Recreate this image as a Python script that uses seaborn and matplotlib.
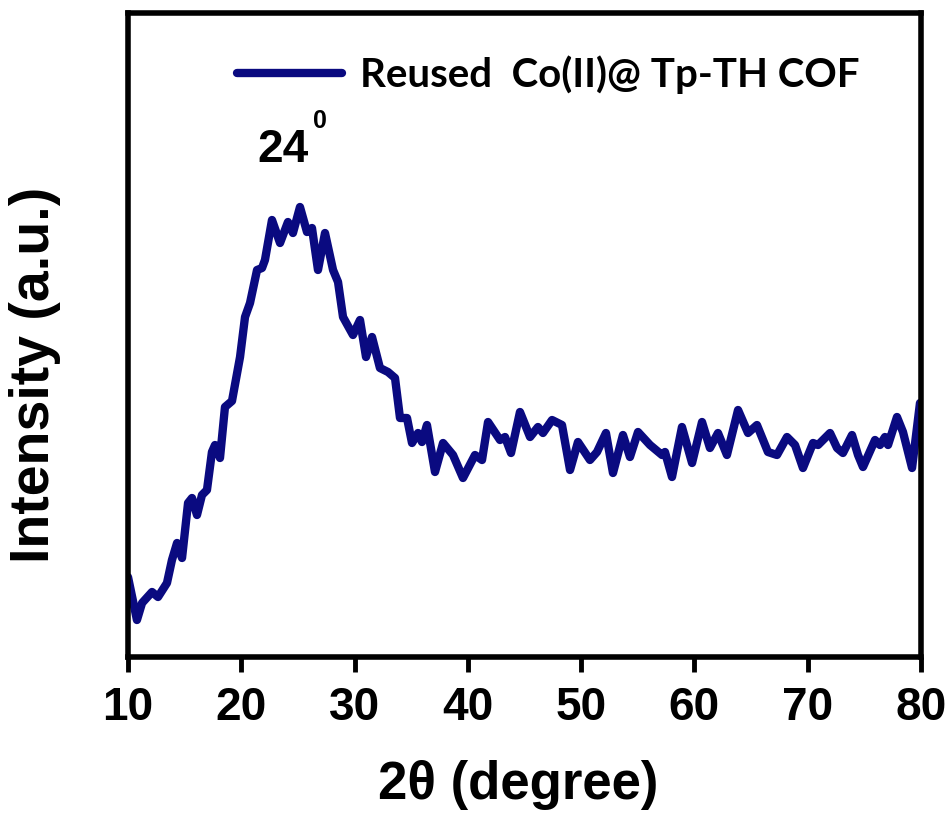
import matplotlib
matplotlib.use("Agg")
import matplotlib.pyplot as plt
import matplotlib.font_manager as fm
import seaborn as sns
import pandas as pd

two_theta = [10.00, 10.79, 11.24, 12.12, 12.65, 13.44, 13.88, 14.33, 14.77, 15.30,
             15.65, 16.09, 16.53, 16.97, 17.41, 17.68, 18.12, 18.56, 19.18, 19.89,
             20.33, 20.77, 21.39, 21.83, 22.09, 22.71, 23.42, 24.12, 24.56, 25.18,
             25.80, 26.24, 26.77, 27.39, 28.10, 28.54, 28.98, 29.86, 30.48, 31.01,
             31.54, 32.24, 32.95, 33.57, 34.01, 34.63, 35.07, 35.60, 35.95, 36.39,
             37.10, 37.81, 38.69, 39.57, 40.63, 41.25, 41.78, 42.84, 43.28, 43.81,
             44.60, 45.49, 46.19, 46.63, 47.43, 48.31, 49.02, 49.72, 50.78, 51.40,
             52.19, 52.81, 53.69, 54.31, 55.02, 56.08, 57.14, 57.40, 58.02, 58.90,
             59.79, 60.67, 61.37, 62.08, 62.87, 63.85, 64.73, 65.52, 66.49, 67.29,
             68.17, 68.88, 69.58, 70.47, 70.91, 71.97, 72.59, 73.11, 73.91, 74.44,
             74.88, 75.94, 76.38, 76.82, 77.09, 77.88, 78.41, 79.21, 79.91]
intensity = [80, 37, 54, 65, 60, 74, 97, 114, 99, 154,
             159, 142, 162, 167, 205, 212, 199, 250, 256, 300,
             340, 354, 387, 389, 397, 437, 414, 435, 424, 450,
             425, 429, 387, 424, 387, 375, 340, 322, 337, 300,
             320, 289, 285, 279, 239, 239, 214, 224, 215, 232,
             185, 214, 202, 179, 202, 197, 235, 217, 220, 204,
             245, 220, 230, 224, 237, 232, 187, 215, 197, 205,
             224, 184, 222, 200, 225, 212, 202, 205, 180, 230,
             194, 235, 209, 224, 202, 247, 224, 232, 205, 202,
             220, 212, 189, 214, 212, 224, 209, 204, 222, 202,
             190, 217, 212, 220, 212, 240, 225, 189, 254]
x_ticks = [10, 20, 30, 40, 50, 60, 70, 80]
series_label = "Reused  Co(II)@ Tp-TH COF"
peak_label = "24"
x_label = "2\u03b8 (degree)"
y_label = "Intensity (a.u.)"

sns.set_style("ticks")
names = {f.name for f in fm.fontManager.ttflist}
narrow = "Liberation Sans Narrow" if "Liberation Sans Narrow" in names else "Liberation Sans"
plt.rcParams["font.family"] = ["Liberation Sans", "DejaVu Sans"]
plt.rcParams["text.color"] = "black"
plt.rcParams["axes.labelcolor"] = "black"
plt.rcParams["xtick.color"] = "black"
plt.rcParams["ytick.color"] = "black"

df = pd.DataFrame({"two_theta": two_theta, "intensity": intensity, "series": series_label})

fig = plt.figure(figsize=(9.51, 8.16), dpi=100)
ax = fig.add_axes([128 / 951, 159 / 816, 793 / 951, 644 / 816])

sns.lineplot(data=df, x="two_theta", y="intensity", hue="series", sort=False,
             palette=["#0a0a80"], linewidth=6.0, ax=ax, legend=True)
for ln in ax.lines:
    ln.set_solid_joinstyle("round")
    ln.set_solid_capstyle("round")

ax.set_xlim(10, 80)
ax.set_ylim(0, 644)
ax.set_xticks(x_ticks)
ax.set_xticklabels([str(t) for t in x_ticks], fontfamily=narrow, fontweight="bold",
                   fontsize=33, color="black")
ax.set_yticks([])
ax.tick_params(axis="x", direction="out", length=11, width=3.5, pad=10, colors="black")
for s in ax.spines.values():
    s.set_linewidth(4)
    s.set_visible(True)
    s.set_color("black")

ax.set_xlabel("")
ax.set_ylabel("")
fig.text(518 / 951, 1 - 785 / 816, x_label, ha="center", va="center",
         fontfamily=narrow, fontweight="bold", fontsize=38, color="black")
fig.text(35 / 951, 1 - 375 / 816, y_label, ha="center", va="center", rotation=90,
         fontweight="bold", fontsize=40, color="black")

ax.text(23.68, 495, peak_label, ha="center", va="baseline", fontweight="bold",
        fontsize=33, color="black")
ax.text(26.3, 524, "0", ha="left", va="bottom", fontweight="bold", fontsize=18, color="black")

leg = ax.legend(loc="center left", bbox_to_anchor=(0.1375, 0.904), frameon=False,
                borderpad=0, borderaxespad=0, handlelength=2.6, handletextpad=0.45,
                prop={"family": "Lato", "weight": "bold", "size": 29})
for t in leg.get_texts():
    t.set_color("black")
for h in leg.get_lines():
    h.set_linewidth(6.0)
    h.set_solid_capstyle("round")

fig.savefig("out.png", dpi=100)
